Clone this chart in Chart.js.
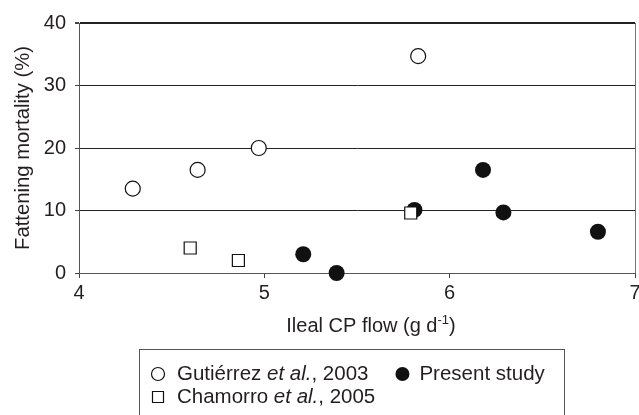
<!DOCTYPE html>
<html>
<head>
<meta charset="utf-8">
<script src="https://cdn.jsdelivr.net/npm/chart.js@4/dist/chart.umd.min.js"></script>
<style>
  html, body { margin: 0; padding: 0; background: #fff; overflow: hidden; width: 639px; height: 415px; }
  canvas { display: block; }
</style>
</head>
<body>
<canvas id="c" width="660" height="415"></canvas>
<script>
// ---- data ----
const xTicks = [4, 5, 6, 7];
const yTicks = [0, 10, 20, 30, 40];

const gutierrezX = [4.29, 4.64, 4.97, 5.83];
const gutierrezY = [13.5, 16.5, 20.0, 34.7];

const chamorroX = [4.60, 4.86, 5.79];
const chamorroY = [4.0, 2.0, 9.6];

const presentX = [5.21, 5.39, 5.81, 6.18, 6.29, 6.80];
const presentY = [3.0, 0.0, 10.1, 16.5, 9.7, 6.6];

// x title: main text, superscript, closing
const xTitleParts = ['Ileal CP flow (g d', '-1', ')'];
const yTitle = 'Fattening mortality (%)';

// legend labels: [regular, italic, regular]
const gutierrezLabel = ['Guti\u00E9rrez ', 'et al.', ', 2003'];
const chamorroLabel = ['Chamorro ', 'et al.', ', 2005'];
const presentLabel = ['Present study', '', ''];
// --------------------------------------

const FONT = '"Liberation Sans", Arial, Helvetica, sans-serif';
const TEXT = '#231f20';

function pts(xs, ys) { return xs.map((x, i) => ({x: x, y: ys[i]})); }

const textPlugin = {
  id: 'customText',
  afterDraw(chart) {
    const ctx = chart.ctx;
    const area = chart.chartArea;
    ctx.save();
    // x axis title with superscript
    ctx.fillStyle = TEXT;
    ctx.textBaseline = 'alphabetic';
    const big = '20px ' + FONT, small = '13px ' + FONT;
    ctx.font = big;
    const w0 = ctx.measureText(xTitleParts[0]).width;
    const w2 = ctx.measureText(xTitleParts[2]).width;
    ctx.font = small;
    const w1 = ctx.measureText(xTitleParts[1]).width;
    const total = w0 + w1 + w2;
    let tx = (area.left + area.right) / 2 + 14 - total / 2;
    const base = chart.scales.x.bottom - 83;
    ctx.font = big; ctx.fillText(xTitleParts[0], tx, base); tx += w0;
    ctx.font = small; ctx.fillText(xTitleParts[1], tx, base - 8); tx += w1;
    ctx.font = big; ctx.fillText(xTitleParts[2], tx, base);

    // legend
    ctx.strokeStyle = '#555';
    ctx.lineWidth = 1;
    ctx.strokeRect(139.5, 349.5, 425, 100);
    ctx.textBaseline = 'middle';
    const reg = '20.5px ' + FONT, ita = 'italic 20.5px ' + FONT;
    function drawParts(parts, x, y) {
      const fonts = [reg, ita, reg];
      parts.forEach((p, i) => {
        if (!p) return;
        ctx.font = fonts[i];
        ctx.fillStyle = TEXT;
        ctx.fillText(p, x, y);
        x += ctx.measureText(p).width;
      });
      return x;
    }
    function marker(style, x, y) {
      ctx.beginPath();
      ctx.lineWidth = 1.2;
      ctx.strokeStyle = '#111';
      if (style === 'open') {
        ctx.arc(x, y, 6.5, 0, Math.PI * 2);
        ctx.fillStyle = '#fff'; ctx.fill(); ctx.stroke();
      } else if (style === 'filled') {
        ctx.arc(x, y, 7, 0, Math.PI * 2);
        ctx.fillStyle = '#111'; ctx.fill();
      } else {
        ctx.rect(x - 5.5, y - 5.5, 11, 11);
        ctx.fillStyle = '#fff'; ctx.fill(); ctx.stroke();
      }
    }
    const r1 = 374, r2 = 397;
    marker('open', 158, r1);
    const end = drawParts(gutierrezLabel, 177, r1);
    const mx = end + 34;
    marker('filled', mx, r1);
    drawParts(presentLabel, mx + 17, r1);
    marker('square', 158, r2);
    drawParts(chamorroLabel, 177, r2);
    ctx.restore();
  }
};

new Chart(document.getElementById('c'), {
  type: 'scatter',
  data: {
    datasets: [
      {
        label: chamorroLabel.join(''),
        data: pts(chamorroX, chamorroY),
        pointStyle: 'rect',
        pointRadius: 8.5,
        pointHoverRadius: 8.5,
        backgroundColor: '#fff',
        borderColor: '#111',
        borderWidth: 1.2,
        order: 0,
        clip: false
      },
      {
        label: gutierrezLabel.join(''),
        data: pts(gutierrezX, gutierrezY),
        pointStyle: 'circle',
        pointRadius: 7.5,
        pointHoverRadius: 7.5,
        backgroundColor: '#fff',
        borderColor: '#111',
        borderWidth: 1.2,
        order: 1,
        clip: false
      },
      {
        label: presentLabel.join(''),
        data: pts(presentX, presentY),
        pointStyle: 'circle',
        pointRadius: 8,
        pointHoverRadius: 8,
        backgroundColor: '#111',
        borderColor: '#111',
        borderWidth: 0,
        order: 2,
        clip: false
      }
    ]
  },
  options: {
    responsive: false,
    animation: false,
    devicePixelRatio: 1,
    layout: { padding: { left: 0, right: 25, top: 23, bottom: 0 } },
    plugins: { legend: { display: false }, tooltip: { enabled: false } },
    scales: {
      x: {
        type: 'linear',
        min: 4, max: 7,
        afterBuildTicks(s) { s.ticks = xTicks.map(v => ({value: v})); },
        afterFit(s) { s.height = 142; s.paddingLeft = 0; s.paddingRight = 0; },
        ticks: {
          color: TEXT, padding: 3,
          font: { family: FONT, size: 20 },
          callback: v => String(v)
        },
        grid: {
          drawOnChartArea: true,
          color: ctx => (ctx.tick && ctx.tick.value === 7) ? '#777' : 'rgba(0,0,0,0)',
          tickColor: '#444',
          tickLength: 5,
          lineWidth: 1
        },
        border: { display: true, color: '#555', width: 1 },
        title: { display: false }
      },
      y: {
        type: 'linear',
        min: 0, max: 40,
        afterBuildTicks(s) { s.ticks = yTicks.map(v => ({value: v})); },
        afterFit(s) { s.width = 79; s.paddingTop = 0; s.paddingBottom = 0; },
        ticks: {
          color: TEXT, padding: 9,
          font: { family: FONT, size: 20 },
          callback: v => String(v)
        },
        grid: {
          color: '#222',
          lineWidth: ctx => (ctx.tick && ctx.tick.value === 40) ? 2 : 1,
          tickColor: '#444',
          tickLength: 4
        },
        border: { display: true, color: '#555', width: 1 },
        title: {
          display: true, text: yTitle, color: TEXT,
          font: { family: FONT, size: 20.3 },
          padding: { top: 11, bottom: 0 }
        }
      }
    }
  },
  plugins: [textPlugin]
});
</script>
</body>
</html>
